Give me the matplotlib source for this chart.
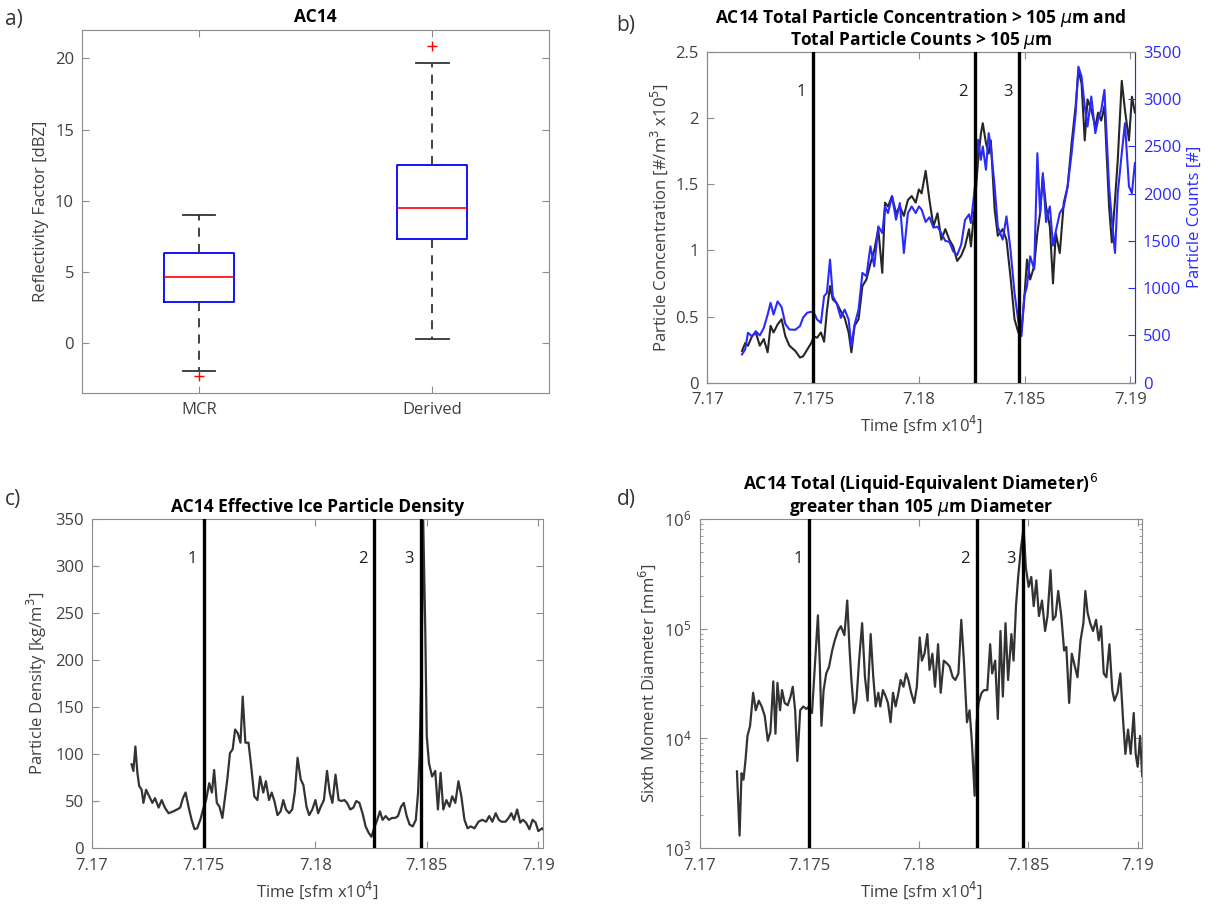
import numpy as np
import matplotlib.pyplot as plt
from matplotlib.ticker import FormatStrFormatter

plt.rcParams['font.family'] = ['Open Sans', 'DejaVu Sans']
plt.rcParams['mathtext.fontset'] = 'dejavusans'
plt.rcParams['font.size'] = 12

# ---- a) reflectivity box statistics [dBZ]
box_names = ['MCR', 'Derived']
box_whislo = [-2.0, 0.3]
box_q1 = [2.9, 7.3]
box_med = [4.6, 9.5]
box_q3 = [6.3, 12.5]
box_whishi = [9.0, 19.7]
box_fliers = [[-2.3], [20.9]]

# ---- b) concentration (x10^5 #/m3) and counts, time in sfm
b_time = [71716.4, 71717.9, 71719.2, 71721.1, 71722.9, 71724.8, 71726.7, 71728.5, 71729.9, 71731.3,
          71733.2, 71735.1, 71736.9, 71738.8, 71741.6, 71743.8, 71745.3, 71747.2, 71749.1, 71750.4,
          71751.9, 71753.7, 71755.2, 71756.5, 71758.0, 71759.3, 71761.2, 71763.1, 71764.9, 71766.8,
          71768.1, 71769.6, 71771.5, 71773.3, 71775.2, 71777.1, 71778.9, 71780.8, 71782.7, 71784.0,
          71785.4, 71787.3, 71789.2, 71791.0, 71792.9, 71794.8, 71796.6, 71798.5, 71800.0, 71801.3,
          71803.2, 71805.0, 71806.9, 71808.8, 71810.6, 71812.5, 71814.4, 71816.2, 71818.1, 71820.0,
          71821.8, 71823.7, 71824.6, 71826.5, 71828.0, 71829.3, 71830.2, 71831.7, 71833.0, 71834.0,
          71835.8, 71837.3, 71839.6, 71841.4, 71843.3, 71845.2, 71847.0, 71848.5, 71849.8, 71851.1,
          71852.6, 71854.5, 71856.0, 71857.3, 71858.6, 71860.1, 71861.9, 71863.4, 71864.7, 71866.6,
          71868.5, 71870.3, 71872.2, 71874.1, 71875.4, 71876.9, 71878.4, 71879.7, 71881.5, 71883.4,
          71884.7, 71886.2, 71887.7, 71889.9, 71891.2, 71892.7, 71894.0, 71895.9, 71897.4, 71899.3,
          71900.7, 71902.1]
b_conc = [0.24, 0.30, 0.28, 0.35, 0.38, 0.28, 0.33, 0.23, 0.43, 0.38,
          0.44, 0.48, 0.35, 0.28, 0.24, 0.19, 0.20, 0.25, 0.30, 0.35,
          0.34, 0.38, 0.31, 0.54, 0.73, 0.63, 0.60, 0.54, 0.49, 0.38,
          0.23, 0.43, 0.48, 0.73, 0.78, 0.90, 1.00, 1.16, 0.83, 1.36,
          1.33, 1.41, 1.28, 1.33, 1.26, 1.38, 1.41, 1.36, 1.46, 1.43,
          1.60, 1.38, 1.18, 1.28, 1.08, 1.16, 1.08, 1.03, 0.92, 0.96,
          1.03, 1.16, 1.03, 1.36, 1.68, 1.88, 1.96, 1.81, 1.73, 1.83,
          1.31, 1.11, 1.16, 1.08, 0.80, 0.48, 0.38, 0.40, 0.63, 0.93,
          0.78, 0.88, 1.13, 1.28, 1.56, 1.33, 1.18, 0.75, 1.13, 0.98,
          1.36, 1.48, 1.81, 2.09, 2.36, 2.26, 1.83, 2.14, 2.06, 1.93,
          2.04, 1.98, 2.09, 1.33, 1.06, 1.38, 1.68, 2.28, 2.06, 1.83,
          2.16, 2.04]
b_counts = [300, 352, 528, 490, 545, 500, 580, 720, 845, 721,
            860, 800, 620, 563, 560, 600, 690, 740, 750, 739,
            668, 633, 915, 950, 1302, 915, 835, 686, 774, 668,
            387, 616, 774, 1161, 1126, 1442, 1231, 1653, 1583, 1864,
            1794, 1970, 1724, 1900, 1372, 1794, 1864, 1794, 1864, 1830,
            1700, 1750, 1640, 1650, 1580, 1500, 1490, 1390, 1350, 1460,
            1720, 1780, 1689, 2076, 2568, 2357, 2498, 2252, 2639, 2498,
            2076, 1650, 1513, 1759, 1407, 950, 650, 493, 915, 1020,
            1337, 1200, 2427, 1794, 2216, 1700, 1864, 1450, 1600, 1794,
            1864, 2076, 2427, 2850, 3342, 3236, 2920, 2709, 3026, 2639,
            2779, 2885, 3096, 2076, 1724, 1372, 2005, 2427, 2744, 2076,
            2005, 2322]

# ---- c) effective ice particle density [kg/m3]
c_time = [71717.7, 71718.5, 71719.4, 71720.3, 71721.1, 71722.2, 71723.0, 71724.2, 71725.6, 71727.0,
          71728.2, 71729.8, 71731.2, 71732.6, 71734.3, 71736.4, 71738.1, 71739.5, 71740.7, 71741.9,
          71743.3, 71744.6, 71745.9, 71747.1, 71748.5, 71749.7, 71751.1, 71752.5, 71753.7, 71754.7,
          71755.9, 71757.1, 71758.4, 71759.4, 71760.6, 71761.8, 71763.0, 71764.1, 71765.3, 71766.5,
          71767.5, 71768.7, 71770.1, 71771.3, 71772.7, 71774.1, 71775.3, 71776.7, 71777.9, 71779.3,
          71780.5, 71781.7, 71783.1, 71784.5, 71785.7, 71786.9, 71788.3, 71789.7, 71790.9, 71792.1,
          71793.5, 71794.7, 71796.1, 71797.3, 71798.7, 71800.1, 71801.3, 71802.5, 71803.9, 71805.3,
          71806.5, 71807.7, 71809.1, 71810.5, 71811.7, 71813.1, 71814.3, 71815.7, 71817.1, 71818.4,
          71819.8, 71821.2, 71822.6, 71824.0, 71825.2, 71826.4, 71827.8, 71829.0, 71830.2, 71831.6,
          71833.0, 71834.4, 71835.8, 71837.1, 71838.5, 71839.7, 71841.0, 71842.3, 71843.7, 71845.1,
          71846.1, 71846.8, 71847.7, 71848.4, 71849.3, 71850.0, 71851.0, 71852.4, 71853.8, 71855.0,
          71856.2, 71857.4, 71858.8, 71860.2, 71861.4, 71862.8, 71864.2, 71865.5, 71866.9, 71868.3,
          71869.7, 71871.4, 71873.2, 71874.9, 71876.6, 71878.0, 71879.4, 71880.9, 71882.3, 71883.5,
          71885.3, 71886.7, 71887.9, 71889.1, 71890.5, 71891.9, 71893.1, 71894.5, 71896.0, 71897.4,
          71898.8, 71900.0, 71901.7, 71902.9]
c_density = [89, 82, 108, 80, 66, 62, 48, 62, 55, 48,
             53, 43, 51, 43, 37, 39, 41, 43, 53, 59,
             43, 30, 20, 21, 30, 41, 51, 69, 59, 83,
             48, 44, 32, 51, 73, 101, 105, 126, 122, 112,
             161, 112, 112, 87, 55, 51, 76, 59, 71, 51,
             59, 50, 35, 39, 51, 41, 37, 41, 60, 96,
             73, 67, 44, 35, 41, 51, 37, 44, 51, 82,
             59, 48, 78, 51, 50, 51, 48, 41, 43, 50,
             48, 37, 23, 16, 12, 21, 30, 39, 30, 34,
             30, 32, 32, 34, 44, 48, 34, 25, 23, 30,
             59, 101, 200, 349, 236, 119, 90, 76, 82, 41,
             80, 41, 51, 44, 55, 48, 71, 55, 30, 21,
             23, 21, 28, 30, 28, 34, 28, 37, 30, 28,
             28, 32, 37, 30, 41, 27, 30, 27, 20, 30,
             27, 18, 21, 18]

# ---- d) sixth moment of liquid-equivalent diameter [mm^6]
d_time = [71716.9, 71718.1, 71719.0, 71719.9, 71720.8, 71721.7, 71722.9, 71724.3, 71725.5, 71726.9,
          71728.2, 71729.6, 71731.0, 71732.2, 71733.5, 71734.5, 71735.4, 71736.6, 71737.5, 71738.7,
          71740.1, 71741.4, 71742.4, 71743.5, 71744.5, 71745.8, 71747.2, 71748.6, 71749.8, 71751.2,
          71752.5, 71753.9, 71754.8, 71755.5, 71756.5, 71757.7, 71759.0, 71760.4, 71761.6, 71763.0,
          71764.4, 71766.0, 71767.3, 71768.3, 71769.2, 71770.4, 71771.5, 71772.7, 71774.1, 71775.4,
          71776.6, 71778.0, 71779.2, 71780.3, 71781.5, 71782.4, 71783.6, 71784.9, 71785.9, 71787.1,
          71788.2, 71789.4, 71790.7, 71791.7, 71793.0, 71794.2, 71795.2, 71796.5, 71797.9, 71799.1,
          71800.4, 71801.4, 71802.6, 71803.9, 71804.9, 71806.2, 71807.4, 71808.8, 71810.0, 71811.4,
          71812.9, 71814.1, 71815.5, 71816.7, 71818.1, 71819.4, 71820.6, 71822.0, 71823.2, 71824.3,
          71825.5, 71826.4, 71827.3, 71828.7, 71829.9, 71831.3, 71832.6, 71833.5, 71834.9, 71836.1,
          71837.3, 71838.4, 71839.6, 71840.8, 71842.3, 71843.3, 71844.4, 71845.4, 71846.7, 71847.9,
          71848.9, 71850.2, 71851.4, 71852.5, 71853.7, 71854.9, 71856.3, 71857.7, 71858.8, 71860.2,
          71861.3, 71862.5, 71863.7, 71865.1, 71866.4, 71867.4, 71868.7, 71869.9, 71871.3, 71872.5,
          71873.9, 71875.2, 71876.1, 71877.1, 71878.3, 71879.6, 71881.0, 71882.2, 71883.3, 71884.5,
          71885.7, 71887.1, 71888.4, 71889.4, 71890.8, 71892.1, 71893.3, 71894.4, 71895.6, 71896.8,
          71898.2, 71899.1, 71900.0, 71901.1, 71902.1]
d_sixth = [5.0e3, 1.3e3, 4.8e3, 4.2e3, 6.3e3, 1.05e4, 1.3e4, 2.6e4, 1.8e4, 2.2e4,
           1.95e4, 1.6e4, 9.5e3, 1.15e4, 3.3e4, 1.1e4, 3.2e4, 1.8e4, 2.75e4, 2.1e4,
           2.0e4, 2.4e4, 2.95e4, 1.8e4, 6.2e3, 1.8e4, 1.95e4, 1.85e4, 1.95e4, 1.7e4,
           4.5e4, 1.32e5, 4.5e4, 1.3e4, 2.75e4, 3.9e4, 4.5e4, 6.3e4, 7.8e4, 9.5e4,
           1.05e5, 8.7e4, 1.8e5, 6.8e4, 3.4e4, 1.7e4, 2.2e4, 5.1e4, 1.12e5, 3.6e4,
           2.2e4, 8.9e4, 3.6e4, 1.95e4, 2.6e4, 1.95e4, 2.75e4, 2.4e4, 2.1e4, 1.4e4,
           2.6e4, 1.95e4, 2.6e4, 3.4e4, 2.95e4, 3.9e4, 3.4e4, 2.6e4, 2.1e4, 2.95e4,
           8.3e4, 5.1e4, 5.9e4, 8.9e4, 4.2e4, 5.9e4, 2.95e4, 7.2e4, 2.6e4, 5.1e4,
           4.8e4, 4.5e4, 3.6e4, 3.4e4, 3.9e4, 1.2e5, 5.1e4, 1.4e4, 1.8e4, 8.9e3,
           3.0e3, 1.4e4, 2.1e4, 2.6e4, 2.75e4, 2.75e4, 7.2e4, 3.9e4, 5.1e4, 1.5e4,
           9.5e4, 2.4e4, 1.12e5, 3.4e4, 8.9e4, 5.1e4, 1.6e5, 2.95e5, 5.5e5, 8.3e5,
           3.6e5, 2.4e5, 2.95e5, 1.6e5, 2.75e5, 1.3e5, 1.8e5, 9.5e4, 1.3e5, 3.4e5,
           1.2e5, 1.3e5, 2.2e5, 1.3e5, 6.3e4, 6.8e4, 2.1e4, 5.9e4, 4.5e4, 3.6e4,
           7.8e4, 1.12e5, 2.2e5, 1.4e5, 1.12e5, 9.5e4, 1.2e5, 7.8e4, 1.05e5, 3.9e4,
           3.6e4, 7.2e4, 2.75e4, 2.2e4, 2.6e4, 3.9e4, 1.5e4, 7.2e3, 1.2e4, 7.2e3,
           1.7e4, 7.2e3, 5.5e3, 1.05e4, 4.5e3]

# sampling events marked on the time series
event_time = [71750.0, 71826.5, 71847.5]
event_names = ['1', '2', '3']

time_ticks = [7.17, 7.175, 7.18, 7.185, 7.19]
time_label = 'Time [sfm x10$^4$]'

GRAY_TXT = '#404040'
GRAY_AX = '#8c8c8c'
BLUE = '#2a2aff'


def style(ax, right=True):
    for s in ax.spines.values():
        s.set_color(GRAY_AX)
    ax.tick_params(direction='in', top=True, right=right, length=5,
                   colors=GRAY_AX, labelcolor=GRAY_TXT, labelsize=12)
    ax.tick_params(axis='x', pad=7)
    ax.tick_params(axis='y', pad=6)


def time_axis(ax):
    ax.set_xlim(7.17, 7.1902)
    ax.set_xticks(time_ticks)
    ax.xaxis.set_major_formatter(FormatStrFormatter('%g'))
    ax.set_xlabel(time_label, color=GRAY_TXT, fontsize=12)


def mark_events(ax):
    for t, name in zip(event_time, event_names):
        ax.axvline(t / 1e4, color='black', lw=2.4, zorder=5)
        ax.annotate(name, (t / 1e4, 0.877), xycoords=('data', 'axes fraction'),
                    xytext=(-5, 0), textcoords='offset points',
                    ha='right', va='center', fontsize=12, color='#202020')


fig = plt.figure(figsize=(12.28, 9.07), dpi=100)

# a) box plot
ax_a = fig.add_axes([0.067, 0.567, 0.380, 0.400])
stats = []
for i in range(len(box_names)):
    stats.append(dict(label=box_names[i], whislo=box_whislo[i], q1=box_q1[i],
                      med=box_med[i], q3=box_q3[i], whishi=box_whishi[i],
                      fliers=box_fliers[i]))
ax_a.bxp(stats, positions=[1, 2], widths=0.3, capwidths=0.14,
         boxprops=dict(color='blue', lw=1.3),
         medianprops=dict(color='red', lw=1.2),
         whiskerprops=dict(color='#333333', lw=1.3, ls=(0, (5, 4))),
         capprops=dict(color='#333333', lw=1.3),
         flierprops=dict(marker='+', markeredgecolor='red', markersize=7))
ax_a.set_xlim(0.5, 2.5)
ax_a.set_ylim(-3.5, 22)
ax_a.set_yticks([0, 5, 10, 15, 20])
ax_a.set_ylabel('Reflectivity Factor [dBZ]', color=GRAY_TXT, fontsize=12)
ax_a.set_title('AC14', fontweight='bold', fontsize=12.5, pad=6)
style(ax_a)

# b) concentration and counts
ax_b = fig.add_axes([0.576, 0.578, 0.348, 0.365])
tb = np.array(b_time) / 1e4
ax_b.plot(tb, b_conc, color='#262626', lw=1.5)
ax_b.set_ylim(0, 2.5)
ax_b.set_yticks([0, 0.5, 1, 1.5, 2, 2.5])
ax_b.yaxis.set_major_formatter(FormatStrFormatter('%g'))
ax_b.set_ylabel('Particle Concentration [#/m$^3$ x10$^5$]', color=GRAY_TXT, fontsize=12)
time_axis(ax_b)
style(ax_b, right=False)
ax_b.set_title('AC14 Total Particle Concentration > 105 $\\mu$m and\n'
               'Total Particle Counts > 105 $\\mu$m',
               fontweight='bold', fontsize=12.5, pad=5, linespacing=1.0)
ax_b2 = ax_b.twinx()
ax_b2.plot(tb, b_counts, color=BLUE, lw=1.5)
ax_b2.set_ylim(0, 3500)
ax_b2.set_yticks(range(0, 3501, 500))
ax_b2.set_ylabel('Particle Counts [#]', color=BLUE, fontsize=12)
for s in ax_b2.spines.values():
    s.set_color(GRAY_AX)
ax_b2.spines['right'].set_color(BLUE)
ax_b2.tick_params(direction='in', length=5, colors=BLUE, labelcolor=BLUE,
                  labelsize=12, pad=6)
mark_events(ax_b2)

# c) effective density
ax_c = fig.add_axes([0.075, 0.065, 0.367, 0.363])
ax_c.plot(np.array(c_time) / 1e4, c_density, color='#333333', lw=1.6)
ax_c.set_ylim(0, 350)
ax_c.set_yticks(range(0, 351, 50))
ax_c.set_ylabel('Particle Density [kg/m$^3$]', color=GRAY_TXT, fontsize=12)
time_axis(ax_c)
style(ax_c)
ax_c.set_title('AC14 Effective Ice Particle Density', fontweight='bold', fontsize=12.5, pad=5)
mark_events(ax_c)

# d) sixth moment, log scale
ax_d = fig.add_axes([0.570, 0.065, 0.360, 0.363])
ax_d.plot(np.array(d_time) / 1e4, d_sixth, color='#333333', lw=1.6)
ax_d.set_yscale('log')
ax_d.set_ylim(1e3, 1e6)
ax_d.set_ylabel('Sixth Moment Diameter [mm$^6$]', color=GRAY_TXT, fontsize=12)
time_axis(ax_d)
style(ax_d)
ax_d.tick_params(which='minor', direction='in', right=True, length=2.5, colors=GRAY_AX)
ax_d.set_title('AC14 Total (Liquid-Equivalent Diameter)$^6$\n'
               'greater than 105 $\\mu$m Diameter',
               fontweight='bold', fontsize=12.5, pad=5, linespacing=1.0)
mark_events(ax_d)

# panel letters
for x, y, s in [(0.004, 0.978, 'a)'), (0.502, 0.972, 'b)'),
                (0.004, 0.449, 'c)'), (0.502, 0.449, 'd)')]:
    fig.text(x, y, s, fontsize=15, color='#333333', va='center')

fig.savefig('out.png', dpi=100)
